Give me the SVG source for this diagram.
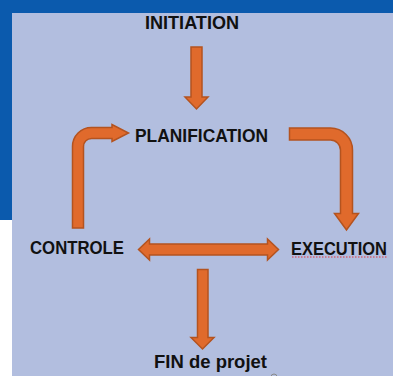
<svg xmlns="http://www.w3.org/2000/svg" width="393" height="376" viewBox="0 0 393 376">
  <style>
    .lbl { font-family: "Liberation Sans", Arial, sans-serif; font-weight: bold; font-size: 18px; fill: #111; }
    .arw { fill: #e06a2c; stroke: #b4531f; stroke-width: 1.5; stroke-linejoin: miter; }
  </style>

  <!-- slide backdrop -->
  <rect x="0" y="0" width="393" height="376" fill="#ffffff"/>
  <rect x="0" y="0" width="393" height="220" fill="#0b5aad"/>
  <rect x="12" y="13" width="381" height="363" fill="#b2bedf"/>

  <!-- connectors -->
  <g id="connectors">
    <!-- initiation -> planification -->
    <path class="arw" d="M191,47 H202 V97 H208 L196.5,109 L185,97 H191 Z"/>
    <!-- planification -> execution -->
    <path class="arw" d="M289.5,128 H330.5 A22,22 0 0 1 352.5,150 V213.5 H358.5 L346.5,230 L334.5,213.5 H340.5 V150 A10,10 0 0 0 330.5,140 H289.5 Z"/>
    <!-- controle <-> execution -->
    <path class="arw" d="M138.5,249.5 L149.5,239 V244 H267.5 V239 L278.5,249.5 L267.5,260 V255 H149.5 V260 Z"/>
    <!-- controle -> planification -->
    <path class="arw" d="M72.5,228 V146.5 A19,19 0 0 1 91.5,127.5 H112 V124.5 L128.5,133 L112,141.5 V138.5 H91.5 A8,8 0 0 0 83.5,146.5 V228 Z"/>
    <!-- down to end of project -->
    <path class="arw" d="M197.5,269.5 H208 V337.5 H214 L202.5,349 L191,337.5 H197.5 Z"/>
  </g>

  <g id="initiation">
    <text class="lbl" x="192" y="29" text-anchor="middle" textLength="94" lengthAdjust="spacingAndGlyphs">INITIATION</text>
  </g>
  <g id="planification">
    <text class="lbl" x="201.5" y="141.5" text-anchor="middle" textLength="133" lengthAdjust="spacingAndGlyphs">PLANIFICATION</text>
  </g>
  <g id="controle">
    <text class="lbl" x="30" y="254" textLength="94" lengthAdjust="spacingAndGlyphs">CONTROLE</text>
  </g>
  <g id="execution">
    <text class="lbl" x="291" y="254.5" font-size="16.5" textLength="96" lengthAdjust="spacingAndGlyphs">EXECUTION</text>
    <!-- spell-check squiggle -->
    <path d="M292,257 H388" stroke="#e0393e" stroke-width="1" stroke-dasharray="1.5,1.5" fill="none"/>
  </g>
  <g id="fin">
    <text class="lbl" x="154" y="367.5" textLength="113" lengthAdjust="spacingAndGlyphs">FIN de projet</text>
    <circle cx="274" cy="377" r="3" fill="none" stroke="#8a8a8a" stroke-width="1"/>
  </g>
</svg>
